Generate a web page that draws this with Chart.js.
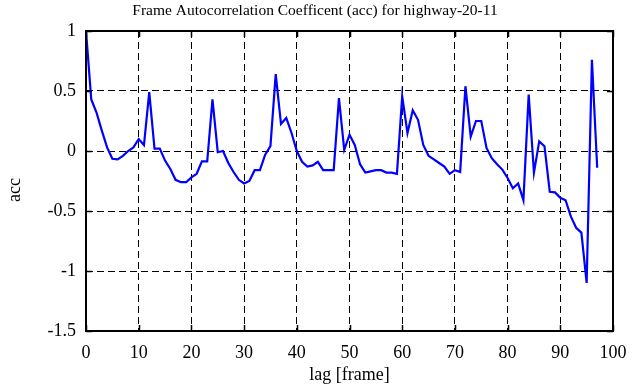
<!DOCTYPE html>
<html>
<head>
<meta charset="utf-8">
<script src="https://cdn.jsdelivr.net/npm/chart.js@4/dist/chart.umd.min.js"></script>
<style>
  html, body { margin: 0; padding: 0; background: #fff; }
  #wrap { width: 641px; height: 387px; position: relative; }
</style>
</head>
<body>
<div id="wrap"><canvas id="c"></canvas></div>
<script>
const chartTitle = "Frame Autocorrelation Coefficent (acc) for highway-20-11";
const xAxisTitle = "lag [frame]";
const yAxisTitle = "acc";
const seriesName = "acc";

const lags = [
  0,1,2,3,4,5,6,7,8,9,
  10,11,12,13,14,15,16,17,18,19,
  20,21,22,23,24,25,26,27,28,29,
  30,31,32,33,34,35,36,37,38,39,
  40,41,42,43,44,45,46,47,48,49,
  50,51,52,53,54,55,56,57,58,59,
  60,61,62,63,64,65,66,67,68,69,
  70,71,72,73,74,75,76,77,78,79,
  80,81,82,83,84,85,86,87,88,89,
  90,91,92,93,94,95,96,97
];

const accValues = [
  1.00, 0.43, 0.32, 0.17, 0.03, -0.065, -0.07, -0.04, 0.00, 0.03,
  0.10, 0.05, 0.49, 0.02, 0.02, -0.08, -0.15, -0.24, -0.26, -0.26,
  -0.22, -0.19, -0.087, -0.087, 0.43, -0.01, 0.00, -0.10, -0.175, -0.24,
  -0.27, -0.25, -0.16, -0.16, -0.03, 0.04, 0.64, 0.225, 0.275, 0.15,
  0.00, -0.09, -0.13, -0.12, -0.09, -0.16, -0.16, -0.16, 0.44, 0.01,
  0.135, 0.05, -0.11, -0.18, -0.17, -0.16, -0.16, -0.18, -0.18, -0.19,
  0.455, 0.15, 0.34, 0.26, 0.05, -0.04, -0.07, -0.10, -0.13, -0.19,
  -0.16, -0.175, 0.54, 0.12, 0.25, 0.25, 0.025, -0.06, -0.11, -0.155,
  -0.225, -0.31, -0.27, -0.41, 0.47, -0.18, 0.08, 0.04, -0.34, -0.345,
  -0.39, -0.41, -0.545, -0.64, -0.68, -1.10, 0.76, -0.14
];

const xTickValues = [0,10,20,30,40,50,60,70,80,90,100];
const yTickValues = [-1.5,-1,-0.5,0,0.5,1];
const yTickLabels = ["-1.5","-1","-0.5","0","0.5","1"];

const FONT = "'Liberation Serif', 'DejaVu Serif', serif";

const frame = {
  id: 'frame',
  afterDraw(chart) {
    const {ctx, chartArea: a, scales} = chart;
    ctx.save();
    ctx.strokeStyle = '#000';
    ctx.lineWidth = 1.5;
    ctx.setLineDash([]);
    const tl = 6;
    ctx.beginPath();
    xTickValues.forEach(v => {
      const x = Math.round(scales.x.getPixelForValue(v)) + 0.5;
      ctx.moveTo(x, a.bottom); ctx.lineTo(x, a.bottom - tl);
      ctx.moveTo(x, a.top); ctx.lineTo(x, a.top + tl);
    });
    yTickValues.forEach(v => {
      const y = Math.round(scales.y.getPixelForValue(v)) + 0.5;
      ctx.moveTo(a.left, y); ctx.lineTo(a.left + tl, y);
      ctx.moveTo(a.right, y); ctx.lineTo(a.right - tl, y);
    });
    ctx.stroke();
    ctx.lineWidth = 2;
    ctx.strokeRect(a.left, a.top, a.right - a.left, a.bottom - a.top);
    ctx.fillStyle = '#000';
    ctx.textAlign = 'center';
    ctx.textBaseline = 'middle';
    // chart title
    ctx.font = "15.5px " + FONT;
    ctx.fillText(chartTitle, 315, 11);
    // y axis title
    ctx.font = "18px " + FONT;
    ctx.translate(15, 190);
    ctx.rotate(-Math.PI / 2);
    ctx.fillText(yAxisTitle, 0, 0);
    ctx.restore();
  }
};

new Chart(document.getElementById('c'), {
  type: 'line',
  data: {
    datasets: [{
      label: seriesName,
      data: lags.map((l, i) => ({x: l, y: accValues[i]})),
      borderColor: '#0000ff',
      borderWidth: 2.2,
      pointRadius: 0,
      tension: 0,
      fill: false
    }]
  },
  options: {
    responsive: true,
    maintainAspectRatio: false,
    devicePixelRatio: 1,
    animation: false,
    layout: { padding: { top: 31, right: 28, left: 0, bottom: 0 } },
    plugins: { legend: { display: false }, tooltip: { enabled: false }, title: { display: false } },
    scales: {
      x: {
        type: 'linear',
        min: 0, max: 100,
        afterBuildTicks: s => { s.ticks = xTickValues.map(v => ({value: v})); },
        afterFit: s => { s.height = 56; },
        grid: { color: '#000', lineWidth: 1, drawTicks: false },
        border: { display: false, dash: [7, 4] },
        ticks: { color: '#000', padding: 11, maxRotation: 0, font: { family: FONT, size: 18 },
                 callback: v => String(v) },
        title: { display: true, text: xAxisTitle, color: '#000', font: { family: FONT, size: 18 }, padding: { top: 0, bottom: 1 } }
      },
      y: {
        type: 'linear',
        min: -1.5, max: 1,
        afterBuildTicks: s => { s.ticks = yTickValues.map(v => ({value: v})); },
        afterFit: s => { s.width = 86; },
        grid: { color: '#000', lineWidth: 1, drawTicks: false },
        border: { display: false, dash: [7, 4] },
        ticks: { color: '#000', padding: 10, font: { family: FONT, size: 18 },
                 callback: v => yTickLabels[yTickValues.indexOf(v)] },
        title: { display: false, text: yAxisTitle }
      }
    }
  },
  plugins: [frame]
});
</script>
</body>
</html>
